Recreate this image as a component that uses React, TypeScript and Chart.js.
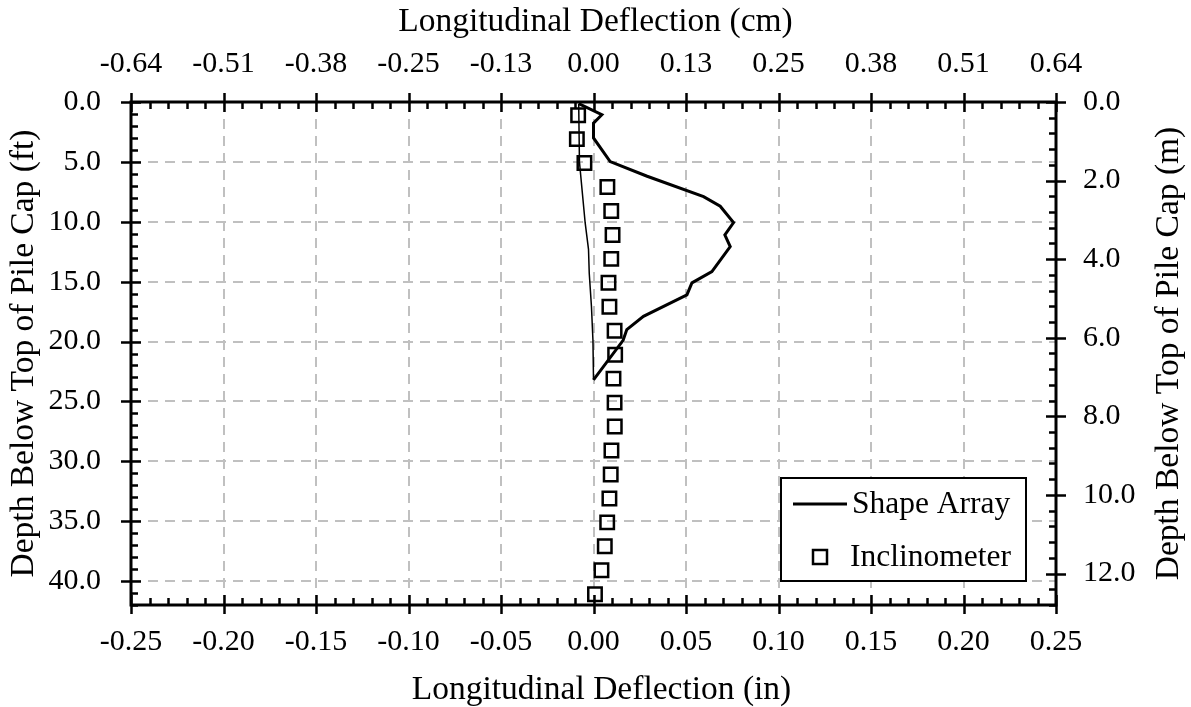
import React, { useEffect, useRef } from 'react';
import { Chart, registerables } from 'chart.js';

Chart.register(...registerables);

// ---------- data ----------
const shapeArrayDeflIn = [-0.008, 0.0045, 0.0, 0.0, 0.009, 0.029, 0.0595, 0.0685, 0.0757, 0.071, 0.0739, 0.064, 0.0532, 0.0505, 0.027, 0.018, 0.016, 0.0];
const shapeArrayDepthFt = [0.14, 1.06, 1.76, 3.0, 4.97, 6.2, 7.9, 8.7, 10.07, 11.1, 12.07, 14.16, 15.1, 16.1, 17.9, 19.0, 19.9, 23.2];

const shapeReturnDeflIn = [0.0, -0.0003, -0.0011, -0.0023, -0.0027, -0.0045, -0.0076, -0.008];
const shapeReturnDepthFt = [23.2, 19.9, 17.1, 14.3, 12.3, 10.1, 5.0, 0.14];

const inclinometerDeflIn = [-0.0083, -0.009, -0.0049, 0.0075, 0.0096, 0.0103, 0.0096, 0.0081, 0.0086, 0.0114, 0.0117, 0.0108, 0.0114, 0.0115, 0.0097, 0.0093, 0.0086, 0.0074, 0.0061, 0.0043, 0.0008];
const inclinometerDepthFt = [1.1, 3.1, 5.1, 7.1, 9.1, 11.1, 13.1, 15.1, 17.1, 19.1, 21.1, 23.1, 25.1, 27.1, 29.1, 31.1, 33.1, 35.1, 37.1, 39.1, 41.1];

const xTicksIn = [-0.25, -0.2, -0.15, -0.1, -0.05, 0, 0.05, 0.1, 0.15, 0.2, 0.25];
const xTopTickLabelsCm = ['-0.64', '-0.51', '-0.38', '-0.25', '-0.13', '0.00', '0.13', '0.25', '0.38', '0.51', '0.64'];
const yTicksFt = [0, 5, 10, 15, 20, 25, 30, 35, 40];
const y2TicksM = [0, 2, 4, 6, 8, 10, 12];

const X_MIN = -0.25;
const X_MAX = 0.25;
const Y_MAX_FT = 42;
const FT_PER_M = 3.28084;

const FONT = "'Liberation Serif', 'Times New Roman', serif";

function toPoints(xs: number[], ys: number[]) {
  return xs.map((x, i) => ({ x, y: ys[i] }));
}

const decorPlugin = {
  id: 'decor',
  afterDraw(chart: any) {
    const { ctx, chartArea } = chart;
    const { left, right, top, bottom } = chartArea;
    const xs = chart.scales.x;
    const ys = chart.scales.y;
    const y2 = chart.scales.y2;
    ctx.save();
    ctx.strokeStyle = '#000';
    ctx.lineCap = 'butt';

    // frame
    ctx.lineWidth = 3;
    ctx.strokeRect(left, top, right - left, bottom - top);

    // x ticks (top & bottom)
    ctx.lineWidth = 2.5;
    ctx.beginPath();
    for (let i = 0; i <= 50; i++) {
      const v = X_MIN + i * 0.01;
      const px = Math.round(xs.getPixelForValue(v)) + 0.5;
      if (i % 5 === 0) {
        ctx.moveTo(px, top - 9); ctx.lineTo(px, top + 10);
        ctx.moveTo(px, bottom - 10); ctx.lineTo(px, bottom + 9);
      } else {
        ctx.moveTo(px, top); ctx.lineTo(px, top + 7);
        ctx.moveTo(px, bottom - 7); ctx.lineTo(px, bottom);
      }
    }
    // left ticks (ft)
    for (let f = 0; f <= Y_MAX_FT; f++) {
      const py = Math.round(ys.getPixelForValue(f)) + 0.5;
      if (f % 5 === 0) {
        ctx.moveTo(left - 10, py); ctx.lineTo(left + 10, py);
      } else {
        ctx.moveTo(left, py); ctx.lineTo(left + 7, py);
      }
    }
    // right ticks (m)
    const mMax = Y_MAX_FT / FT_PER_M;
    for (let k = 0; k * 0.4 <= mMax + 1e-9; k++) {
      const m = k * 0.4;
      const py = Math.round(y2.getPixelForValue(m)) + 0.5;
      if (k % 5 === 0) {
        ctx.moveTo(right - 10, py); ctx.lineTo(right + 10, py);
      } else {
        ctx.moveTo(right - 7, py); ctx.lineTo(right, py);
      }
    }
    ctx.stroke();

    // axis titles
    ctx.fillStyle = '#000';
    ctx.font = `33.5px ${FONT}`;
    ctx.textAlign = 'center';
    ctx.textBaseline = 'alphabetic';
    const cx = (left + right) / 2;
    const cy = (top + bottom) / 2;
    ctx.fillText('Longitudinal Deflection (in)', cx + 8, 699);
    ctx.fillText('Longitudinal Deflection (cm)', cx + 2, 31);
    ctx.save();
    ctx.translate(33, cy);
    ctx.rotate(-Math.PI / 2);
    ctx.fillText('Depth Below Top of Pile Cap (ft)', 0, 0);
    ctx.restore();
    ctx.save();
    ctx.translate(1178, cy);
    ctx.rotate(-Math.PI / 2);
    ctx.fillText('Depth Below Top of Pile Cap (m)', 0, 0);
    ctx.restore();

    // legend
    const lx = 781, ly = 478, lw = 245, lh = 103;
    ctx.fillStyle = '#fff';
    ctx.fillRect(lx, ly, lw, lh);
    ctx.lineWidth = 2;
    ctx.strokeStyle = '#000';
    ctx.strokeRect(lx, ly, lw, lh);
    ctx.lineWidth = 3;
    ctx.beginPath();
    ctx.moveTo(793, 504); ctx.lineTo(847, 504);
    ctx.stroke();
    ctx.lineWidth = 2.5;
    ctx.strokeRect(820 - 7, 557 - 7, 14, 14);
    ctx.fillStyle = '#000';
    ctx.font = `31.5px ${FONT}`;
    ctx.textAlign = 'left';
    ctx.textBaseline = 'middle';
    ctx.fillText('Shape Array', 852, 505);
    ctx.fillText('Inclinometer', 850, 558);

    ctx.restore();
  },
};

export default function App() {
  const ref = useRef<HTMLCanvasElement | null>(null);

  useEffect(() => {
    const canvas = ref.current;
    if (!canvas) return;
    const tickFont = { family: FONT, size: 30 };
    const chart = new Chart(canvas, {
      type: 'scatter',
      data: {
        datasets: [
          {
            label: 'Shape Array',
            data: toPoints(shapeArrayDeflIn, shapeArrayDepthFt),
            showLine: true,
            borderColor: '#000',
            borderWidth: 3,
            pointRadius: 0,
            fill: false,
            tension: 0,
          } as any,
          {
            label: 'Shape Array (closing)',
            data: toPoints(shapeReturnDeflIn, shapeReturnDepthFt),
            showLine: true,
            borderColor: '#000',
            borderWidth: 1.5,
            pointRadius: 0,
            fill: false,
            tension: 0,
          } as any,
          {
            label: 'Inclinometer',
            data: toPoints(inclinometerDeflIn, inclinometerDepthFt),
            showLine: false,
            pointStyle: 'rect',
            pointRadius: 9.5,
            pointBorderWidth: 2.5,
            pointBorderColor: '#000',
            pointBackgroundColor: 'rgba(255,255,255,0)',
            borderColor: '#000',
          } as any,
        ],
      },
      options: {
        animation: false,
        responsive: false,
        devicePixelRatio: 1,
        layout: { padding: 0 },
        plugins: {
          legend: { display: false },
          tooltip: { enabled: false },
          title: { display: false },
        },
        scales: {
          x: {
            type: 'linear',
            position: 'bottom',
            min: X_MIN,
            max: X_MAX,
            afterBuildTicks: (s: any) => { s.ticks = xTicksIn.map((v) => ({ value: v })); },
            afterFit: (s: any) => { s.height = 102; },
            ticks: {
              callback: (v: any) => Number(v).toFixed(2),
              font: tickFont,
              color: '#000',
              padding: 19,
              maxRotation: 0,
              autoSkip: false,
            },
            grid: { color: '#c0c0c0', lineWidth: 2, drawTicks: false },
            border: { display: false, dash: [10, 7] },
          },
          x2: {
            type: 'linear',
            position: 'top',
            min: X_MIN,
            max: X_MAX,
            afterBuildTicks: (s: any) => { s.ticks = xTicksIn.map((v) => ({ value: v })); },
            afterFit: (s: any) => { s.height = 102; },
            ticks: {
              callback: (_v: any, i: number) => xTopTickLabelsCm[i],
              font: tickFont,
              color: '#000',
              padding: 20,
              maxRotation: 0,
              autoSkip: false,
            },
            grid: { display: false, drawTicks: false },
            border: { display: false },
          },
          y: {
            type: 'linear',
            position: 'left',
            min: 0,
            max: Y_MAX_FT,
            reverse: true,
            afterBuildTicks: (s: any) => { s.ticks = yTicksFt.map((v) => ({ value: v })); },
            afterFit: (s: any) => { s.width = 131; },
            ticks: {
              callback: (v: any) => Number(v).toFixed(1),
              font: tickFont,
              color: '#000',
              padding: 30,
              autoSkip: false,
            },
            grid: { color: '#c0c0c0', lineWidth: 2, drawTicks: false },
            border: { display: false, dash: [10, 7] },
          },
          y2: {
            type: 'linear',
            position: 'right',
            min: 0,
            max: Y_MAX_FT / FT_PER_M,
            reverse: true,
            afterBuildTicks: (s: any) => { s.ticks = y2TicksM.map((v) => ({ value: v })); },
            afterFit: (s: any) => { s.width = 135; },
            ticks: {
              callback: (v: any) => Number(v).toFixed(1),
              font: tickFont,
              color: '#000',
              padding: 27,
              autoSkip: false,
            },
            grid: { display: false, drawTicks: false },
            border: { display: false },
          },
        },
      },
      plugins: [decorPlugin],
    } as any);
    return () => chart.destroy();
  }, []);

  return (
    <div style={{ position: 'fixed', left: 0, top: 0, width: 1191, height: 707, background: '#fff' }}>
      <canvas ref={ref} width={1191} height={707} style={{ display: 'block', width: 1191, height: 707 }} />
    </div>
  );
}
